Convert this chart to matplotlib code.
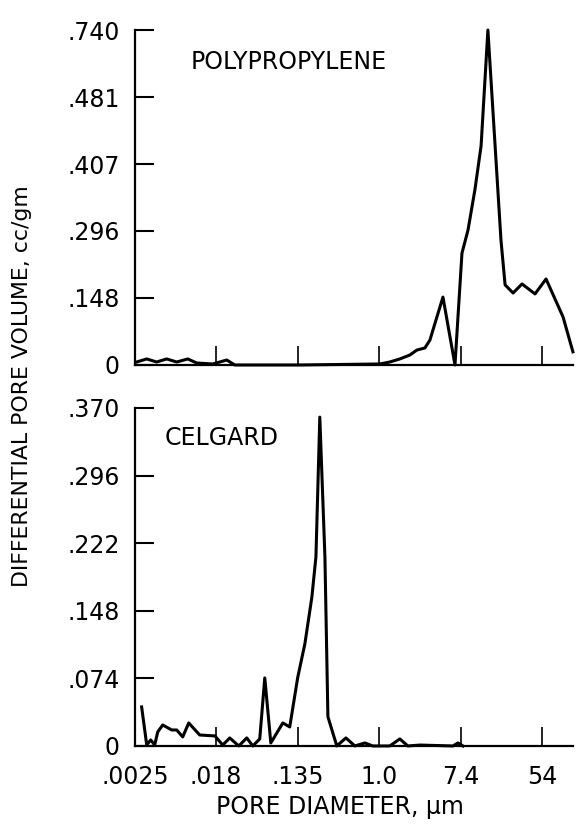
import numpy as np
import matplotlib
matplotlib.use("Agg")
import matplotlib.pyplot as plt
from matplotlib.ticker import FixedLocator, FixedFormatter, NullLocator

plt.rcParams['font.family'] = ['DejaVu Sans']

# polypropylene: pore diameter (um) and differential pore volume
pp_d = [0.0026, 0.00333, 0.00425, 0.00543, 0.00695, 0.0091, 0.01135, 0.0168,
        0.0237, 0.0288, 0.142, 1.01, 1.29, 1.65, 2.11, 2.51, 3.05, 3.45, 4.75,
        6.38, 7.57, 8.78, 10.4, 12.1, 14.3, 19.7, 21.8, 26.5, 33.0, 45.4, 59.5,
        90.3, 115.0]
pp_v = [0.0066, 0.0133, 0.0066, 0.0133, 0.0066, 0.0133, 0.0044, 0.0022,
        0.011, 0.0, 0.0, 0.0022, 0.0066, 0.0133, 0.022, 0.033, 0.0376, 0.055,
        0.150, 0.0, 0.247, 0.298, 0.387, 0.484, 0.740, 0.276, 0.177, 0.159,
        0.179, 0.157, 0.190, 0.106, 0.029]

# celgard
cg_d = [0.00294, 0.00333, 0.00367, 0.00405, 0.00436, 0.00493, 0.00614, 0.00695,
        0.00805, 0.00933, 0.0122, 0.0177, 0.0215, 0.0255, 0.0318, 0.0387,
        0.0449, 0.0532, 0.0602, 0.0698, 0.0937, 0.111, 0.135, 0.161, 0.191,
        0.211, 0.232, 0.263, 0.283, 0.352, 0.440, 0.548, 0.700, 0.852, 1.29,
        1.65, 2.01, 2.70, 6.07, 6.86, 7.76]
cg_v = [0.0427, 0.0011, 0.0066, 0.0011, 0.0153, 0.023, 0.0175, 0.0175, 0.0099,
        0.0252, 0.012, 0.011, 0.001, 0.0088, 0.0, 0.0088, 0.0, 0.0077, 0.0745,
        0.0033, 0.0252, 0.0208, 0.075, 0.112, 0.163, 0.207, 0.360, 0.207,
        0.032, 0.0, 0.0088, 0.0, 0.0033, 0.0, 0.0, 0.0077, 0.0, 0.001, 0.0,
        0.0033, 0.0]

x_ticks = [0.0025, 0.018, 0.135, 1.0, 7.4, 54]
x_labels = ['.0025', '.018', '.135', '1.0', '7.4', '54']
# tick marks are evenly spaced; labels as printed on the original
pp_yticks = [0, 0.148, 0.296, 0.444, 0.592, 0.740]
pp_ylabels = ['0', '.148', '.296', '.407', '.481', '.740']
cg_yticks = [0, 0.074, 0.148, 0.222, 0.296, 0.370]
cg_ylabels = ['0', '.074', '.148', '.222', '.296', '.370']

fig = plt.figure(figsize=(5.8, 8.25), dpi=100)
ax1 = fig.add_axes([0.2328, 0.5576, 0.755, 0.406])
ax2 = fig.add_axes([0.2328, 0.0958, 0.755, 0.4097])

def style(ax, yt, yl, ytop, show_x):
    ax.set_xscale('log')
    ax.set_xlim(0.0025, 115)
    ax.set_ylim(0, ytop)
    for s in ['top', 'right']:
        ax.spines[s].set_visible(False)
    for s in ['left', 'bottom']:
        ax.spines[s].set_linewidth(1.6)
    ax.yaxis.set_major_locator(FixedLocator(yt))
    ax.yaxis.set_major_formatter(FixedFormatter(yl))
    ax.xaxis.set_major_locator(FixedLocator(x_ticks[1:]))
    ax.xaxis.set_minor_locator(NullLocator())
    ax.tick_params(axis='y', direction='in', length=14, width=1.5, pad=11,
                   labelsize=17)
    ax.tick_params(axis='x', direction='in', length=14, width=1.2, pad=14,
                   labelsize=17)
    if show_x:
        ax.xaxis.set_major_locator(FixedLocator(x_ticks))
        ax.xaxis.set_major_formatter(FixedFormatter(x_labels))
    else:
        ax.set_xticklabels([])

ax1.plot(pp_d, pp_v, color='black', lw=2.2, clip_on=False)
style(ax1, pp_yticks, pp_ylabels, 0.740, False)
ax1.text(0.126, 0.905, 'POLYPROPYLENE', transform=ax1.transAxes,
         fontsize=17, va='center', ha='left')

ax2.plot(cg_d, cg_v, color='black', lw=2.2, clip_on=False)
style(ax2, cg_yticks, cg_ylabels, 0.370, True)
ax2.text(0.068, 0.91, 'CELGARD', transform=ax2.transAxes,
         fontsize=17, va='center', ha='left')

fig.text(0.038, 0.532, 'DIFFERENTIAL PORE VOLUME, cc/gm', rotation=90,
         fontsize=15.8, va='center', ha='center')
fig.text(0.586, 0.022, 'PORE DIAMETER, \u00b5m', fontsize=17,
         ha='center', va='center')

fig.savefig('out.png', dpi=100)
